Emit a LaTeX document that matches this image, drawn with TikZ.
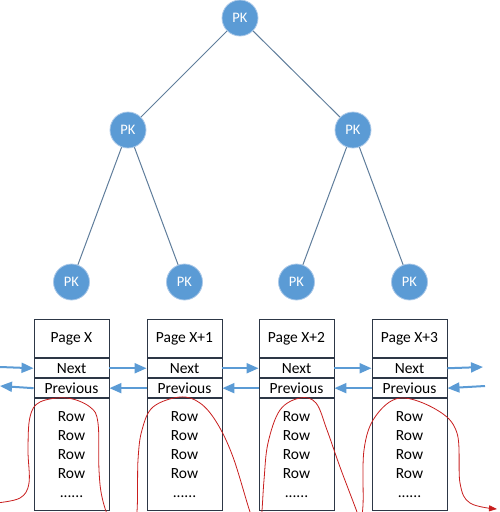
\documentclass[tikz,border=0pt]{standalone}
\usepackage{fontspec}
\setmainfont{Carlito}
\usepackage{tikz}
\usetikzlibrary{arrows.meta, positioning}
\definecolor{pkblue}{RGB}{91, 155, 213}
\definecolor{pkhalo}{RGB}{170, 200, 232}
\definecolor{treeline}{RGB}{95, 125, 155}
\definecolor{boxline}{RGB}{45, 55, 70}
\definecolor{chainred}{RGB}{200, 30, 30}

\begin{document}
\begin{tikzpicture}[
    x=1pt, y=-1pt,
    pk/.style={circle, fill=pkblue, draw=pkhalo, line width=0.8pt, minimum size=36pt,
               inner sep=0pt, text=white, font=\fontsize{14.5}{16}\selectfont},
    branch/.style={draw=treeline, line width=1pt},
    pagecell/.style={draw=boxline, line width=0.9pt, minimum width=75pt, inner sep=0pt,
                     font=\fontsize{15.5}{18}\selectfont},
    pagetitle/.style={pagecell, minimum height=38pt},
    pagelink/.style={pagecell, minimum height=19pt},
    pagebody/.style={pagecell, minimum height=112pt, align=center,
                     font=\fontsize{15.5}{19}\selectfont},
    linkarrow/.style={draw=pkblue, line width=2pt, -{Triangle[length=12pt, width=10pt]}},
    chain/.style={draw=chainred, line width=0.8pt, -{Triangle[length=8pt, width=6pt]}}
]
    \useasboundingbox (0,0) rectangle (499,512);

    % B+ tree
    \node[pk] (root) at (240,18) {PK};
    \node[pk] (mid1) at (128,130) {PK};
    \node[pk] (mid2) at (353,130) {PK};
    \node[pk] (k1) at (71.5,282) {PK};
    \node[pk] (k2) at (184.5,282) {PK};
    \node[pk] (k3) at (296.5,282) {PK};
    \node[pk] (k4) at (409.5,282) {PK};

    \draw[branch] (root) -- (mid1);
    \draw[branch] (root) -- (mid2);
    \draw[branch] (mid1) -- (k1);
    \draw[branch] (mid1) -- (k2);
    \draw[branch] (mid2) -- (k3);
    \draw[branch] (mid2) -- (k4);

    % leaf pages
    \foreach \i/\lbl in {1/Page X, 2/Page X+1, 3/Page X+2, 4/Page X+3} {
        \node[pagetitle, below=19pt of k\i] (title\i) {\lbl};
        \node[pagelink, below=0pt of title\i] (next\i) {Next};
        \node[pagelink, below=0pt of next\i] (prev\i) {Previous};
        \node[pagebody, below=0pt of prev\i] (body\i) {Row\\Row\\Row\\Row\\......};
    }

    % sibling links
    \coordinate (nextin) at (0,367);
    \coordinate (nextout) at (483,367);
    \coordinate (previn) at (485,386);
    \coordinate (prevout) at (0,386);

    \draw[linkarrow] (nextin) -- (next1.west);
    \draw[linkarrow] (next1.east) -- (next2.west);
    \draw[linkarrow] (next2.east) -- (next3.west);
    \draw[linkarrow] (next3.east) -- (next4.west);
    \draw[linkarrow] (next4.east) -- (nextout);

    \draw[linkarrow] (previn) -- (prev4.east);
    \draw[linkarrow] (prev4.west) -- (prev3.east);
    \draw[linkarrow] (prev3.west) -- (prev2.east);
    \draw[linkarrow] (prev2.west) -- (prev1.east);
    \draw[linkarrow] (prev1.west) -- (prevout);

    % scan path through the rows
    \begin{scope}
        \clip (0,0) rectangle (499,512);
        \draw[chain] plot[smooth, tension=0.6] coordinates {
            (-4,503) (20,498) (29,483) (28,450) (30,417) (40,402) (67,398) (90,407)
            (98,423) (99,470) (102,497) (110,520) (123,532) (136,520)
            (138,460) (142,430) (153,407) (180,397) (200,403) (217,423) (233,457)
            (250,512) (256,525) (261,520)
            (264,480) (268,443) (280,410) (300,398) (316,403) (327,430) (340,467)
            (357,512) (360,522) (363,505)
            (364,450) (375,417) (400,398) (437,410) (457,433) (460,483) (470,503)
            (497,509)};
    \end{scope}
\end{tikzpicture}
\end{document}
